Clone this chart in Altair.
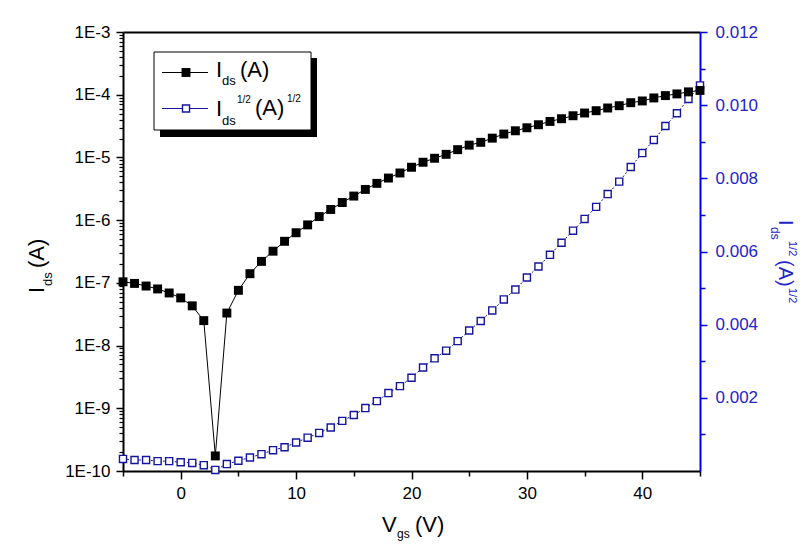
import altair as alt
import pandas as pd

FONT = "Liberation Sans"
NAVY = "#14149c"
BLUE_AX = "#0000ee"
BLUE_TXT = "#2424c8"

# ---- data ----
vgs = [-5, -4, -3, -2, -1, 0, 1, 2, 3, 4, 5, 6, 7, 8, 9, 10, 11, 12, 13, 14,
       15, 16, 17, 18, 19, 20, 21, 22, 23, 24, 25, 26, 27, 28, 29, 30, 31, 32,
       33, 34, 35, 36, 37, 38, 39, 40, 41, 42, 43, 44, 45]
ids = [1.04e-7, 9.8e-8, 8.9e-8, 8.0e-8, 6.9e-8, 5.75e-8, 4.3e-8, 2.5e-8, 1.74e-10,
       3.3e-8, 7.6e-8, 1.4e-7, 2.2e-7, 3.2e-7, 4.6e-7, 6.3e-7, 8.4e-7, 1.14e-6,
       1.48e-6, 1.91e-6, 2.42e-6, 3.09e-6, 3.86e-6, 4.69e-6, 5.65e-6, 6.97e-6,
       8.38e-6, 9.7e-6, 1.12e-5, 1.33e-5, 1.57e-5, 1.74e-5, 2.03e-5, 2.36e-5,
       2.66e-5, 2.97e-5, 3.32e-5, 3.75e-5, 4.14e-5, 4.62e-5, 5.11e-5, 5.56e-5,
       6.14e-5, 6.68e-5, 7.46e-5, 7.95e-5, 8.88e-5, 9.68e-5, 1.03e-4, 1.11e-4,
       1.17e-4]
ids_sqrt = [0.00033, 0.00030, 0.00030, 0.00027, 0.00027, 0.00024, 0.00022, 0.00016,
            0.00003, 0.00019, 0.00028, 0.00037, 0.00046, 0.00057, 0.00065, 0.00078,
            0.00091, 0.00104, 0.00119, 0.00137, 0.00153, 0.00172, 0.00191, 0.00213,
            0.00232, 0.00255, 0.00283, 0.00308, 0.00329, 0.00355, 0.00384, 0.00410,
            0.00439, 0.00469, 0.00496, 0.00529, 0.00559, 0.00591, 0.00624, 0.00657,
            0.00689, 0.00722, 0.00757, 0.00791, 0.00831, 0.00869, 0.00905, 0.00943,
            0.00978, 0.01017, 0.01054]

x_major = [0, 10, 20, 30, 40]
x_minor = [-5, 5, 15, 25, 35, 45]
yl_major = [1e-10, 1e-9, 1e-8, 1e-7, 1e-6, 1e-5, 1e-4, 1e-3]
yl_minor = [m * 10.0 ** k for k in range(-10, -3) for m in range(2, 10)]
yr_major = [0.002, 0.004, 0.006, 0.008, 0.010, 0.012]
yr_minor = [0.001, 0.003, 0.005, 0.007, 0.009, 0.011]

df = pd.DataFrame({"Vgs": vgs, "Ids": ids, "IdsSqrt": ids_sqrt})
one = pd.DataFrame({"x": [0.0], "yl": [1e-6], "yr": [0.005]})

W, H = 577, 439

x_scale = alt.Scale(domain=[-5, 45], nice=False, zero=False)
yl_scale = alt.Scale(type="log", domain=[1e-10, 1e-3], nice=False)
yr_scale = alt.Scale(domain=[0, 0.012], nice=False, zero=False)

x_axis_major = alt.Axis(orient="bottom", values=x_major, format="d", title=None, grid=False,
                        domainColor="black", domainWidth=2, tickColor="black", tickWidth=1.5,
                        tickSize=8, labelFont=FONT, labelFontSize=17, labelColor="black",
                        labelPadding=6, labelOverlap=False)
x_axis_minor = alt.Axis(orient="bottom", values=x_minor, labels=False, domain=False, title=None,
                        grid=False, tickColor="black", tickWidth=1.5, tickSize=5)
x_axis_top = alt.Axis(orient="top", ticks=False, labels=False, domain=True, domainColor="black",
                      domainWidth=2, title=None, grid=False)
yl_axis_major = alt.Axis(orient="left", values=yl_major,
                         labelExpr="'1E' + round(log(datum.value) / LN10)",
                         title=None, grid=False, domainColor="black", domainWidth=2,
                         tickColor="black", tickWidth=1.5, tickSize=7, labelFont=FONT,
                         labelFontSize=17, labelColor="black", labelPadding=6,
                         labelOverlap=False)
yl_axis_minor = alt.Axis(orient="left", values=yl_minor, labels=False, domain=False, title=None,
                         grid=False, tickColor="black", tickWidth=1.2, tickSize=4)
yr_axis_major = alt.Axis(orient="right", values=yr_major, format=".3f", title=None, grid=False,
                         domainColor=BLUE_AX, domainWidth=2, tickColor=BLUE_AX, tickWidth=1.5,
                         tickSize=7, labelFont=FONT, labelFontSize=17, labelColor=BLUE_TXT,
                         labelPadding=8, labelOverlap=False)
yr_axis_minor = alt.Axis(orient="right", values=yr_minor, labels=False, domain=False, title=None,
                         grid=False, tickColor=BLUE_AX, tickWidth=1.5, tickSize=5)

# ---- data layers ----
blue_base = alt.Chart(df).encode(
    x=alt.X("Vgs:Q", scale=x_scale, axis=None),
    y=alt.Y("IdsSqrt:Q", scale=yr_scale, axis=yr_axis_major),
)
blue = alt.layer(
    blue_base.mark_line(color=NAVY, strokeWidth=1, strokeDash=[2, 2]),
    blue_base.mark_point(shape="square", filled=True, fill="white", stroke=NAVY,
                         strokeWidth=1.4, size=50, opacity=1),
)

black_base = alt.Chart(df).encode(
    x=alt.X("Vgs:Q", scale=x_scale, axis=x_axis_major),
    y=alt.Y("Ids:Q", scale=yl_scale, axis=yl_axis_major),
)
black = alt.layer(
    black_base.mark_line(color="black", strokeWidth=1),
    black_base.mark_point(shape="square", filled=True, color="black", size=80, opacity=1),
)

minor_left = alt.Chart(one).mark_point(opacity=0).encode(
    x=alt.X("x:Q", scale=x_scale, axis=x_axis_minor),
    y=alt.Y("yl:Q", scale=yl_scale, axis=yl_axis_minor),
)
minor_right = alt.Chart(one).mark_point(opacity=0).encode(
    x=alt.X("x:Q", scale=x_scale, axis=x_axis_top),
    y=alt.Y("yr:Q", scale=yr_scale, axis=yr_axis_minor),
)


# ---- text helpers (titles & legend) ----
def txt(s, x, y, size, angle=0, color="black"):
    return alt.Chart(one).mark_text(
        text=s, align="left", baseline="alphabetic", font=FONT, fontSize=size,
        angle=angle, color=color,
    ).encode(x=alt.value(x), y=alt.value(y))


titles = [
    # x title  V_gs (V)
    txt("V", 259, 500, 22),
    txt("gs", 274, 506, 12),
    txt("(V)", 292, 500, 22),
    # left title  I_ds (A)
    txt("I", -79, 261, 22, angle=270),
    txt("ds", -71, 254, 13, angle=270),
    txt("(A)", -79, 236, 22, angle=270),
    # right title  I_ds^1/2 (A)^1/2
    txt("I", 656, 188, 20, angle=90, color=BLUE_TXT),
    txt("ds", 648, 195, 12, angle=90, color=BLUE_TXT),
    txt("1/2", 666, 209, 11, angle=90, color=BLUE_TXT),
    txt("(A)", 656, 228, 20, angle=90, color=BLUE_TXT),
    txt("1/2", 666, 256, 11, angle=90, color=BLUE_TXT),
]

legend_shadow = alt.Chart(one).mark_rect(color="black").encode(
    x=alt.value(37), x2=alt.value(194), y=alt.value(26), y2=alt.value(105))
legend_box = alt.Chart(one).mark_rect(fill="white", stroke="black", strokeWidth=1).encode(
    x=alt.value(31), x2=alt.value(188), y=alt.value(20), y2=alt.value(98))
leg_line1 = alt.Chart(one).mark_rule(color="black", strokeWidth=1).encode(
    x=alt.value(39), x2=alt.value(85), y=alt.value(40.5))
leg_line2 = alt.Chart(one).mark_rule(color=NAVY, strokeWidth=1).encode(
    x=alt.value(39), x2=alt.value(85), y=alt.value(76.5))
leg_sym1 = alt.Chart(one).mark_point(shape="square", filled=True, color="black", size=80,
                                     opacity=1).encode(x=alt.value(63), y=alt.value(40.5))
leg_sym2 = alt.Chart(one).mark_point(shape="square", filled=True, fill="white", stroke=NAVY,
                                     strokeWidth=1.4, size=50, opacity=1).encode(
    x=alt.value(63), y=alt.value(76.5))
legend = [
    legend_shadow, legend_box, leg_line1, leg_line2, leg_sym1, leg_sym2,
    txt("I", 93, 45, 22),
    txt("ds", 99, 53, 13),
    txt("(A)", 117, 45, 22),
    txt("I", 93, 84, 22),
    txt("ds", 99, 93, 13),
    txt("1/2", 114, 71, 10),
    txt("(A)", 132, 83, 22),
    txt("1/2", 164, 70, 10),
]

chart = alt.layer(
    minor_left, minor_right, blue, black, *legend, *titles
).resolve_scale(
    x="independent", y="independent"
).resolve_axis(
    x="independent", y="independent"
).properties(
    width=W, height=H,
    autosize=alt.AutoSizeParams(type="none"),
    padding={"left": 115, "top": 24, "right": 99, "bottom": 71},
    background="white",
).configure_view(stroke="transparent")

chart.save("out.html", embed_options={"renderer": "svg", "actions": False})
